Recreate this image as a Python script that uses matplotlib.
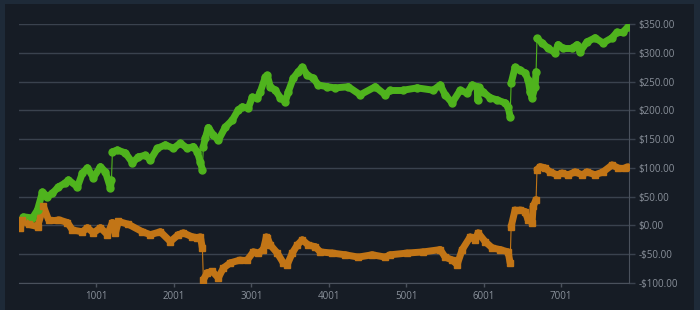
import numpy as np
import matplotlib.pyplot as plt
from matplotlib.collections import LineCollection
from matplotlib.patches import Rectangle
from matplotlib.ticker import FuncFormatter

# trade number / cumulative profit ($)
green_x = [59, 175, 240, 304, 369, 433, 511, 601, 640, 756, 820, 885, 962, 1053, 1117,
           1182, 1195, 1207, 1272, 1375, 1466, 1543, 1633, 1698, 1788, 1891, 1995, 2085,
           2175, 2253, 2304, 2343, 2369, 2382, 2407, 2446, 2511, 2575, 2666, 2756, 2833,
           2885, 2962, 3014, 3078, 3117, 3182, 3207, 3246, 3311, 3375, 3440, 3478, 3543,
           3607, 3659, 3724, 3801, 3865, 3982, 4085, 4253, 4407, 4601, 4730, 4795, 4962,
           5143, 5349, 5440, 5504, 5594, 5698, 5788, 5853, 5917, 5925, 5935, 5994, 6085,
           6175, 6278, 6317, 6343, 6356, 6407, 6472, 6536, 6575, 6601, 6627, 6665, 6678,
           6690, 6756, 6833, 6924, 6962, 7027, 7143, 7207, 7246, 7336, 7440, 7543, 7659,
           7724, 7801, 7865]
green_y = [15, 13, 27, 58, 50, 56, 67, 74, 79, 67, 91, 100, 83, 102, 93,
           65, 79, 128, 131, 126, 109, 119, 122, 114, 134, 140, 134, 143,
           134, 137, 128, 110, 97, 137, 152, 170, 157, 148, 171, 183, 201,
           206, 204, 223, 221, 232, 258, 261, 241, 235, 222, 215, 232, 256,
           267, 275, 261, 256, 244, 241, 239, 241, 227, 241, 227, 235, 235,
           239, 235, 244, 227, 213, 235, 230, 244, 241, 218, 240, 232, 222,
           218, 213, 206, 189, 247, 275, 270, 265, 253, 232, 222, 241, 267,
           325, 317, 308, 300, 314, 308, 308, 314, 302, 319, 326, 317, 326,
           336, 336, 345]

orange_x = [20, 46, 124, 240, 317, 382, 511, 627, 691, 820, 885, 962, 1053, 1143, 1207,
            1246, 1285, 1414, 1595, 1698, 1827, 1956, 2059, 2124, 2240, 2304, 2343, 2369,
            2382, 2433, 2498, 2575, 2640, 2730, 2859, 2949, 3027, 3091, 3156, 3195, 3207,
            3246, 3336, 3414, 3465, 3530, 3595, 3659, 3736, 3827, 3891, 4046, 4214, 4382,
            4562, 4730, 4795, 5014, 5220, 5440, 5504, 5594, 5659, 5724, 5827, 5891, 5930,
            6020, 6111, 6214, 6317, 6343, 6356, 6407, 6472, 6536, 6575, 6627, 6640, 6678,
            6690, 6730, 6794, 6859, 6949, 7014, 7091, 7182, 7272, 7336, 7440, 7543, 7659,
            7736, 7827, 7865]
orange_y = [-4, 10, 2, -2, 33, 10, 10, 5, -8, -11, -4, -13, -4, -16, 5,
            -13, 7, 2, -11, -16, -11, -28, -16, -13, -20, -21, -20, -39,
            -94, -82, -80, -91, -74, -65, -60, -60, -46, -48, -42, -20, -21,
            -34, -48, -65, -68, -48, -34, -25, -34, -37, -46, -48, -51, -55,
            -51, -55, -51, -48, -46, -42, -55, -60, -68, -42, -20, -25, -13,
            -28, -39, -42, -46, -65, -2, 27, 27, 24, 10, 5, 33, 45,
            97, 102, 100, 93, 88, 91, 88, 93, 88, 93, 88, 93, 105,
            100, 100, 102]

y_ticks = [-100, -50, 0, 50, 100, 150, 200, 250, 300, 350]
x_ticks = [1001, 2001, 3001, 4001, 5001, 6001, 7001]

GREEN = '#4fb31d'
ORANGE = '#c27516'

plt.rcParams['font.family'] = ['Open Sans', 'DejaVu Sans']

fig = plt.figure(figsize=(7, 3.1), dpi=100)
fig.patch.set_facecolor('#1e2a38')
fig.add_artist(Rectangle((5 / 700, 0), 689 / 700, 306 / 310, transform=fig.transFigure,
                         facecolor='#161c25', edgecolor='none', zorder=0))

ax = fig.add_axes([19 / 700, 27 / 310, 610 / 700, 259 / 310])
ax.set_facecolor('none')


def draw(xs, ys, color, marker):
    xs = np.array(xs)
    ys = np.array(ys)
    ax.plot(xs, ys, color=color, lw=0.8, zorder=3)
    pts = np.column_stack([xs, ys])
    # thick trail where the curve moves smoothly, thin line on big jumps
    segs = [pts[i:i + 2] for i in range(len(pts) - 1) if abs(ys[i + 1] - ys[i]) < 40]
    ax.add_collection(LineCollection(segs, colors=color, linewidths=5,
                                     capstyle='round', zorder=3))
    ax.plot(xs, ys, ls='none', marker=marker, ms=5, color=color, mec=color, zorder=4)


draw(green_x, green_y, GREEN, 'o')
draw(orange_x, orange_y, ORANGE, 's')

ax.set_xlim(1, 7878)
ax.set_ylim(-100, 350)
ax.set_xticks(x_ticks)
ax.set_yticks(y_ticks)
ax.yaxis.tick_right()
ax.yaxis.set_major_formatter(FuncFormatter(
    lambda v, p: ('-$%.2f' % abs(v)) if v < 0 else ('$%.2f' % v)))
ax.grid(axis='y', color='#3a424e', lw=1)
ax.set_axisbelow(True)
for s in ['top', 'left']:
    ax.spines[s].set_visible(False)
for s in ['right', 'bottom']:
    ax.spines[s].set_color('#4a515c')
ax.tick_params(axis='y', length=4, width=1, color='#3a424e', labelcolor='#8a919b',
               labelsize=7, pad=3)
ax.tick_params(axis='x', length=3, width=1, color='#4a515c', labelcolor='#8a919b',
               labelsize=7, pad=3)

fig.savefig('out.png', dpi=100, facecolor=fig.get_facecolor())
